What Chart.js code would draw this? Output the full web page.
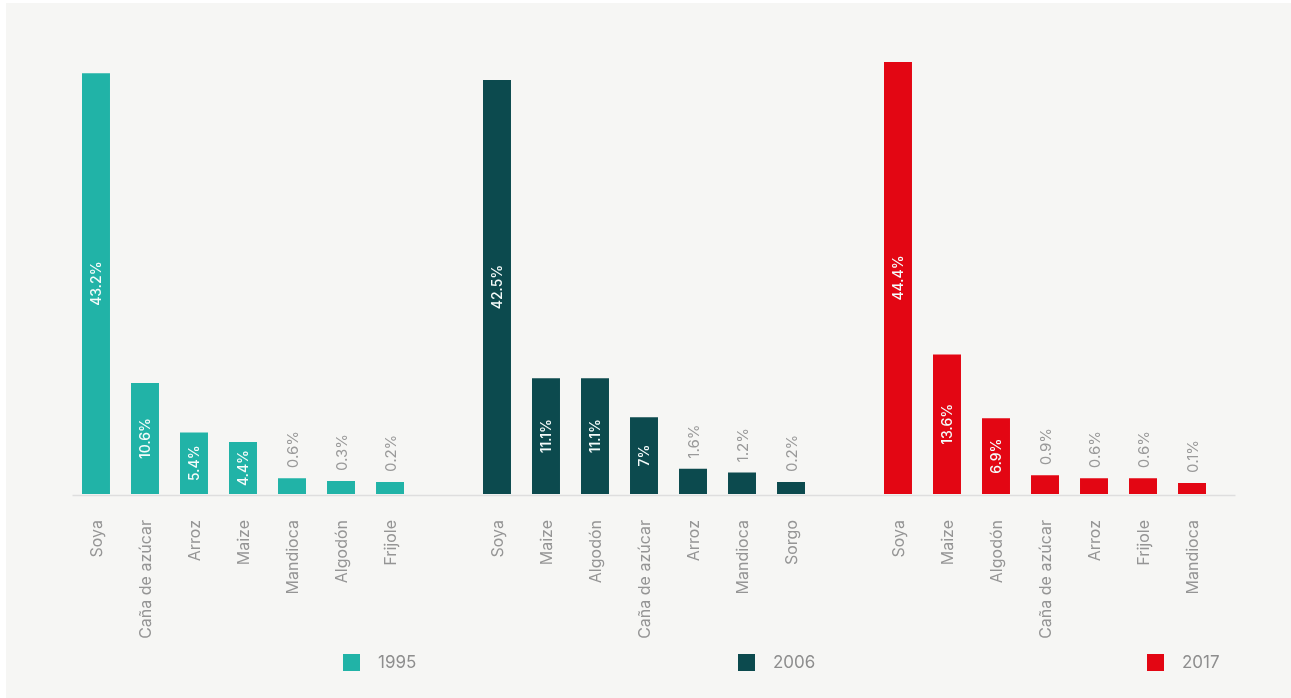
<!DOCTYPE html>
<html>
<head>
<meta charset="utf-8">
<script src="https://cdn.jsdelivr.net/npm/chart.js@4"></script>
<style>
html,body{margin:0;padding:0;background:#ffffff;}
canvas{display:block;}
</style>
</head>
<body>
<canvas id="c" width="1291" height="698"></canvas>
<script>
const years = ['1995', '2006', '2017'];
const crops1995 = ['Soya', 'Caña de azúcar', 'Arroz', 'Maize', 'Mandioca', 'Algodón', 'Frijole'];
const values1995 = [43.2, 10.6, 5.4, 4.4, 0.6, 0.3, 0.2];
const crops2006 = ['Soya', 'Maize', 'Algodón', 'Caña de azúcar', 'Arroz', 'Mandioca', 'Sorgo'];
const values2006 = [42.5, 11.1, 11.1, 7, 1.6, 1.2, 0.2];
const crops2017 = ['Soya', 'Maize', 'Algodón', 'Caña de azúcar', 'Arroz', 'Frijole', 'Mandioca'];
const values2017 = [44.4, 13.6, 6.9, 0.9, 0.6, 0.6, 0.1];
const yearColors = ['#21b3a7', '#0c4a4e', '#e30613'];

const cropsByYear = [crops1995, crops2006, crops2017];
const valuesByYear = [values1995, values2006, values2017];
const Y_MIN = -1.07, Y_MAX = 44.6;

const datasets = [];
for (let r = 0; r < 7; r++) {
  datasets.push({
    label: 'rank' + (r + 1),
    data: valuesByYear.map(v => v[r]),
    backgroundColor: yearColors,
    base: Y_MIN,
    categoryPercentage: 0.8554,
    barPercentage: 0.571
  });
}

const FONT = 'Inter, "Noto Sans", sans-serif';
const legendOffsets = [100, 94, 102];

const decor = {
  id: 'decor',
  beforeDraw(chart) {
    const ctx = chart.ctx;
    ctx.save();
    ctx.fillStyle = '#ffffff';
    ctx.fillRect(0, 0, chart.width, chart.height);
    ctx.fillStyle = '#f6f6f4';
    ctx.fillRect(6, 3, chart.width - 6, chart.height - 3);
    ctx.restore();
  },
  beforeDatasetsDraw(chart) {
    const ctx = chart.ctx, a = chart.chartArea;
    const y = chart.scales.y.getPixelForValue(Y_MIN) + 1.5;
    ctx.save();
    ctx.strokeStyle = '#dedede';
    ctx.lineWidth = 1.5;
    ctx.beginPath();
    ctx.moveTo(a.left + 30, y);
    ctx.lineTo(a.right - 10, y);
    ctx.stroke();
    ctx.restore();
  },
  afterDatasetsDraw(chart) {
    const ctx = chart.ctx;
    const xs = chart.scales.x;
    ctx.save();
    chart.data.datasets.forEach((ds, di) => {
      const meta = chart.getDatasetMeta(di);
      meta.data.forEach((bar, gi) => {
        const v = ds.data[gi];
        const txt = v + '%';
        ctx.save();
        if (v >= 4) {
          ctx.translate(bar.x, (bar.y + bar.base) / 2);
          ctx.rotate(-Math.PI / 2);
          ctx.textAlign = 'center';
          ctx.textBaseline = 'middle';
          ctx.fillStyle = '#f4fbfa';
          ctx.font = '500 14px ' + FONT;
          ctx.fillText(txt, 0, 1);
        } else {
          ctx.translate(bar.x, bar.y - 10);
          ctx.rotate(-Math.PI / 2);
          ctx.textAlign = 'left';
          ctx.textBaseline = 'middle';
          ctx.fillStyle = '#9a9a9a';
          ctx.font = '15px ' + FONT;
          ctx.fillText(txt, 0, 1);
        }
        ctx.restore();
        ctx.save();
        ctx.translate(bar.x, 520);
        ctx.rotate(-Math.PI / 2);
        ctx.textAlign = 'right';
        ctx.textBaseline = 'middle';
        ctx.fillStyle = '#959595';
        ctx.font = '16px ' + FONT;
        ctx.fillText(cropsByYear[gi][di], 0, 1);
        ctx.restore();
      });
    });
    years.forEach((yr, i) => {
      const cx = xs.getPixelForValue(i) + legendOffsets[i];
      ctx.fillStyle = yearColors[i];
      ctx.fillRect(cx, 654, 17, 17);
      ctx.fillStyle = '#8e8e8e';
      ctx.font = '17px ' + FONT;
      ctx.textAlign = 'left';
      ctx.textBaseline = 'middle';
      ctx.fillText(yr, cx + 35, 663);
    });
    ctx.restore();
  }
};

new Chart(document.getElementById('c'), {
  type: 'bar',
  data: { labels: years, datasets },
  options: {
    responsive: false,
    devicePixelRatio: 1,
    animation: false,
    layout: { padding: { left: 42.5, right: 45.5, top: 60, bottom: 204 } },
    plugins: { legend: { display: false }, tooltip: { enabled: false } },
    scales: {
      x: { display: false },
      y: { display: false, min: Y_MIN, max: Y_MAX }
    }
  },
  plugins: [decor]
});
</script>
</body>
</html>
